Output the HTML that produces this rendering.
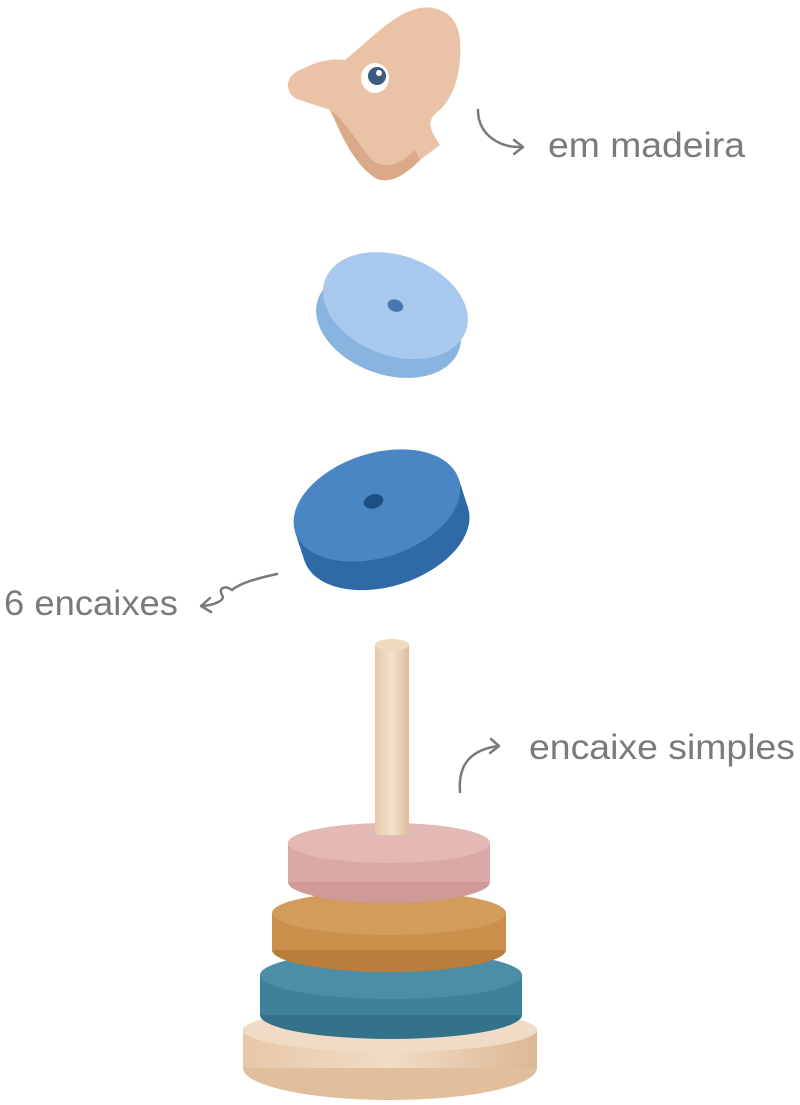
<!DOCTYPE html>
<html><head><meta charset="utf-8"><style>
html,body{margin:0;padding:0;background:#fff;width:800px;height:1105px;overflow:hidden}
svg{display:block}
text{font-family:"Liberation Sans",sans-serif;fill:#7a7a7a}
</style></head><body>
<svg width="800" height="1105" viewBox="0 0 800 1105">
<defs>
<linearGradient id="wood" x1="0" x2="1"><stop offset="0" stop-color="#e7c7a8"/><stop offset=".5" stop-color="#f1dcc6"/><stop offset="1" stop-color="#dcb795"/></linearGradient>
<linearGradient id="peg" x1="0" x2="1"><stop offset="0" stop-color="#e6c9a8"/><stop offset=".5" stop-color="#f4e2cc"/><stop offset="1" stop-color="#dcbd9c"/></linearGradient>
</defs>
<!-- head -->
<path d="M300,70 C285,75 283,95 300,100 L330,110 C340,130 350,160 375,178 C390,185 405,175 420,160 L440,145 C430,130 425,120 440,110 C455,95 462,70 460,40 C458,15 440,5 420,8 C395,12 370,40 345,60 C330,58 315,62 300,70 Z" fill="#eac3a6"/>
<path d="M330,110 C340,130 350,160 375,178 C390,185 405,175 420,160 L415,150 C400,165 385,170 372,160 C355,140 345,120 330,110Z" fill="#d9a98a"/>
<ellipse cx="375" cy="78" rx="14" ry="15" fill="#fff"/>
<circle cx="377" cy="76" r="9" fill="#3d5a80"/>
<circle cx="379" cy="73" r="3" fill="#fff"/>
<!-- arrow em madeira -->
<path d="M478,110 C478,135 500,148 522,147" fill="none" stroke="#7a7a7a" stroke-width="2.5" stroke-linecap="round"/>
<path d="M514,140 L523,147 L514,154" fill="none" stroke="#7a7a7a" stroke-width="2.5" stroke-linecap="round" stroke-linejoin="round"/>
<text x="548" y="157" font-size="35" textLength="197" lengthAdjust="spacingAndGlyphs">em madeira</text>
<!-- light blue ring -->
<g transform="rotate(20 392 315)">
<ellipse cx="392" cy="325" rx="75" ry="50" fill="#89b4e0"/>
<ellipse cx="392" cy="305" rx="75" ry="50" fill="#a9c8ee"/>
<ellipse cx="392" cy="305" rx="8" ry="6" fill="#4b77b0"/>
</g>
<!-- dark blue ring -->
<g transform="rotate(-18 380 515)">
<ellipse cx="380" cy="535" rx="86" ry="52" fill="#2f6aa6"/>
<rect x="294" y="505" width="172" height="30" fill="#2f6aa6"/>
<ellipse cx="380" cy="505" rx="86" ry="52" fill="#4a86c3"/>
<ellipse cx="378" cy="500" rx="10" ry="7" fill="#1d4f84"/>
</g>
<!-- 6 encaixes -->
<path d="M277,574 C258,578 240,583 232,590 C225,585 218,588 222,595 C226,600 215,605 202,606" fill="none" stroke="#7a7a7a" stroke-width="2.5" stroke-linecap="round"/>
<path d="M210,598 L201,606 L211,612" fill="none" stroke="#7a7a7a" stroke-width="2.5" stroke-linecap="round" stroke-linejoin="round"/>
<text x="4" y="615" font-size="35" textLength="174" lengthAdjust="spacingAndGlyphs">6 encaixes</text>
<!-- encaixe simples -->
<path d="M460,792 C458,765 470,750 498,746" fill="none" stroke="#7a7a7a" stroke-width="2.5" stroke-linecap="round"/>
<path d="M491,739 L499,746 L490,753" fill="none" stroke="#7a7a7a" stroke-width="2.5" stroke-linecap="round" stroke-linejoin="round"/>
<text x="529" y="759" font-size="35" textLength="266" lengthAdjust="spacingAndGlyphs">encaixe simples</text>
<!-- base -->
<ellipse cx="390" cy="1068" rx="147" ry="32" fill="#e1bf9d"/>
<rect x="243" y="1030" width="294" height="38" fill="url(#wood)"/>
<ellipse cx="390" cy="1030" rx="147" ry="22" fill="#f0dcc6"/>
<!-- teal -->
<ellipse cx="391" cy="1015" rx="131" ry="24" fill="#34728a"/>
<rect x="260" y="975" width="262" height="40" fill="#3f8198"/>
<ellipse cx="391" cy="975" rx="131" ry="24" fill="#4b8ea5"/>
<!-- mustard -->
<ellipse cx="389" cy="950" rx="117" ry="22" fill="#b97d3c"/>
<rect x="272" y="913" width="234" height="37" fill="#c98f4b"/>
<ellipse cx="389" cy="913" rx="117" ry="22" fill="#d29c5a"/>
<!-- pink -->
<ellipse cx="389" cy="882" rx="101" ry="21" fill="#cf9a98"/>
<rect x="288" y="843" width="202" height="39" fill="#d9a8a7"/>
<ellipse cx="389" cy="843" rx="101" ry="20" fill="#e3b8b5"/>
<!-- peg -->
<rect x="375" y="645" width="34" height="190" fill="url(#peg)"/>
<ellipse cx="392" cy="645" rx="17" ry="6" fill="#efd9bf"/>
</svg>
</body></html>
